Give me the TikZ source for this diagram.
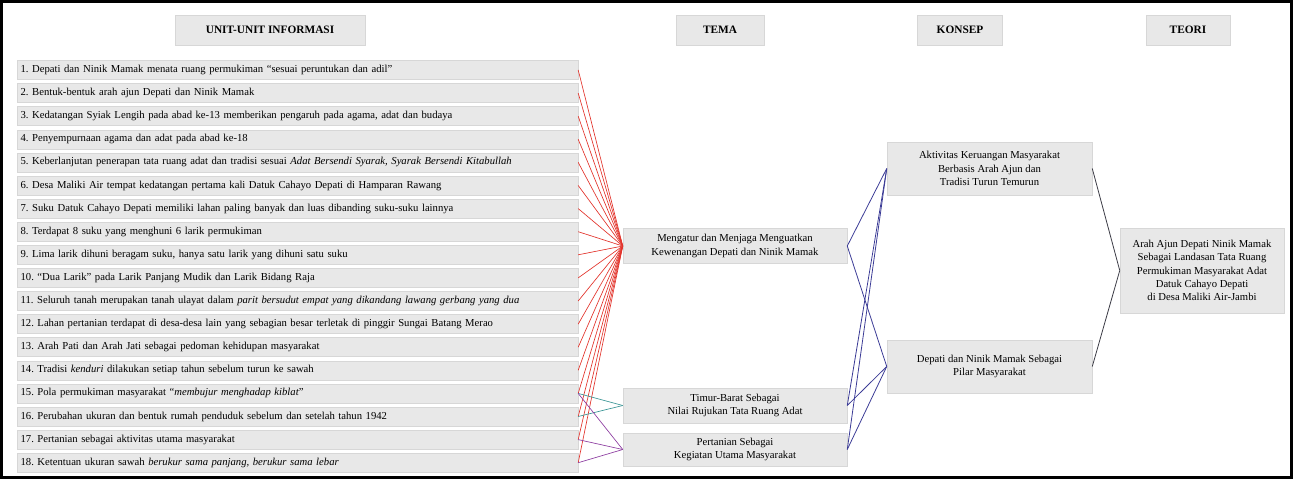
\documentclass[tikz,border=0pt]{standalone}
\usepackage{fontspec}
\setmainfont{Liberation Serif}
\frenchspacing
\definecolor{boxfill}{RGB}{232,232,232}
\definecolor{boxline}{RGB}{215,215,215}
\definecolor{redline}{RGB}{226,52,44}
\definecolor{tealline}{RGB}{60,150,150}
\definecolor{purpline}{RGB}{140,60,160}
\definecolor{blueline}{RGB}{60,60,150}
\definecolor{darkline}{RGB}{60,60,70}
\begin{document}
\begin{tikzpicture}[x=0.75pt,y=-0.75pt,
  box/.style={draw=boxline, fill=boxfill, inner sep=1.5pt},
  item/.style={box, anchor=west, minimum height=14.25pt, text width=415.5pt, inner xsep=2.5pt, align=left, font=\fontsize{8}{9}\selectfont},
  head/.style={box, minimum height=22.5pt, font=\bfseries\fontsize{8.5}{10}\selectfont},
  tema/.style={box, minimum width=168pt, align=center, font=\fontsize{8}{10}\selectfont},
  konsep/.style={box, minimum width=153.75pt, minimum height=39.75pt, align=center, font=\fontsize{8}{10}\selectfont},
  teori/.style={box, minimum width=123pt, minimum height=63.75pt, align=center, font=\fontsize{8}{10}\selectfont},
  rl/.style={draw=redline, line width=0.5pt},
  tl/.style={draw=tealline, line width=0.5pt},
  pl/.style={draw=purpline, line width=0.5pt},
  bl/.style={draw=blueline, line width=0.6pt},
  dl/.style={draw=darkline, line width=0.6pt}
]
\useasboundingbox (0,0) rectangle (1293,479);
\draw[line width=2.2pt] (1.5,1.5) rectangle (1291.5,477.5);

% headers
\node[head, minimum width=142.5pt] (h1) at (270,30) {UNIT-UNIT INFORMASI};
\node[head, minimum width=66pt] (h2) at (720,30) {TEMA};
\node[head, minimum width=64pt] (h3) at (960,30) {KONSEP};
\node[head, minimum width=63pt] (h4) at (1188,30) {TEORI};

% unit-unit informasi
\node[item] (u1) at (17,70) {1. Depati dan Ninik Mamak menata ruang permukiman ``sesuai peruntukan dan adil''};
\node[item] (u2) at (17,93.1) {2. Bentuk-bentuk arah ajun Depati dan Ninik Mamak};
\node[item] (u3) at (17,116.2) {3. Kedatangan Syiak Lengih pada abad ke-13 memberikan pengaruh pada agama, adat dan budaya};
\node[item] (u4) at (17,139.3) {4. Penyempurnaan agama dan adat pada abad ke-18};
\node[item] (u5) at (17,162.4) {5. Keberlanjutan penerapan tata ruang adat dan tradisi sesuai \textit{Adat Bersendi Syarak, Syarak Bersendi Kitabullah}};
\node[item] (u6) at (17,185.5) {6. Desa Maliki Air tempat kedatangan pertama kali Datuk Cahayo Depati di Hamparan Rawang};
\node[item] (u7) at (17,208.6) {7. Suku Datuk Cahayo Depati memiliki lahan paling banyak dan luas dibanding suku-suku lainnya};
\node[item] (u8) at (17,231.7) {8. Terdapat 8 suku yang menghuni 6 larik permukiman};
\node[item] (u9) at (17,254.8) {9. Lima larik dihuni beragam suku, hanya satu larik yang dihuni satu suku};
\node[item] (u10) at (17,277.9) {10. ``Dua Larik'' pada Larik Panjang Mudik dan Larik Bidang Raja};
\node[item] (u11) at (17,301) {11. Seluruh tanah merupakan tanah ulayat dalam \textit{parit bersudut empat yang dikandang lawang gerbang yang dua}};
\node[item] (u12) at (17,324.1) {12. Lahan pertanian terdapat di desa-desa lain yang sebagian besar terletak di pinggir Sungai Batang Merao};
\node[item] (u13) at (17,347.2) {13. Arah Pati dan Arah Jati sebagai pedoman kehidupan masyarakat};
\node[item] (u14) at (17,370.3) {14. Tradisi \textit{kenduri} dilakukan setiap tahun sebelum turun ke sawah};
\node[item] (u15) at (17,393.4) {15. Pola permukiman masyarakat ``\textit{membujur menghadap kiblat}''};
\node[item] (u16) at (17,416.5) {16. Perubahan ukuran dan bentuk rumah penduduk sebelum dan setelah tahun 1942};
\node[item] (u17) at (17,439.6) {17. Pertanian sebagai aktivitas utama masyarakat};
\node[item] (u18) at (17,462.7) {18. Ketentuan ukuran sawah \textit{berukur sama panjang, berukur sama lebar}};

% tema
\node[tema, minimum height=26pt] (t1) at (735,246) {Mengatur dan Menjaga Menguatkan\\Kewenangan Depati dan Ninik Mamak};
\node[tema, minimum height=26pt] (t2) at (735,405.5) {Timur-Barat Sebagai\\Nilai Rujukan Tata Ruang Adat};
\node[tema, minimum height=24.75pt] (t3) at (735,449.5) {Pertanian Sebagai\\Kegiatan Utama Masyarakat};

% konsep
\node[konsep] (k1) at (989.5,168.5) {Aktivitas Keruangan Masyarakat\\Berbasis Arah Ajun dan\\Tradisi Turun Temurun};
\node[konsep] (k2) at (989.5,366.5) {Depati dan Ninik Mamak Sebagai\\Pilar Masyarakat};

% teori
\node[teori] (r1) at (1202,270.5) {Arah Ajun Depati Ninik Mamak\\Sebagai Landasan Tata Ruang\\Permukiman Masyarakat Adat\\Datuk Cahayo Depati\\di Desa Maliki Air-Jambi};

% connectors unit -> tema
\foreach \i in {1,...,18} {\draw[rl] (u\i.east) -- (t1.west);}
\draw[tl] (u15.east) -- (t2.west);
\draw[tl] (u16.east) -- (t2.west);
\draw[pl] (u15.east) -- (t3.west);
\draw[pl] (u17.east) -- (t3.west);
\draw[pl] (u18.east) -- (t3.west);

% tema -> konsep
\foreach \t in {t1,t2,t3} {
  \draw[bl] (\t.east) -- (k1.west);
  \draw[bl] (\t.east) -- (k2.west);
}

% konsep -> teori
\draw[dl] (k1.east) -- (r1.west);
\draw[dl] (k2.east) -- (r1.west);
\end{tikzpicture}
\end{document}
